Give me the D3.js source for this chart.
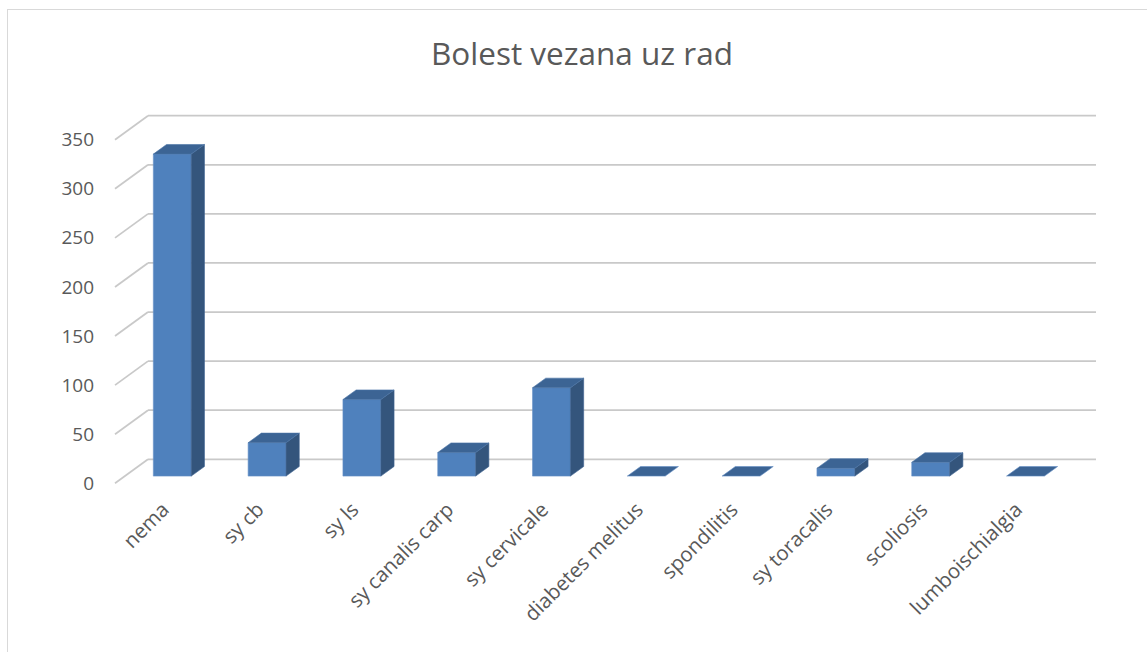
<!DOCTYPE html>
<html>
  <head>
    <meta charset="utf-8">
    <title>Bolest vezana uz rad</title>
    <script src="https://d3js.org/d3.v7.min.js"></script>
  </head>
  <style>
    body {
      margin: 0;
      background-color: #fff;
      font-family: 'Open Sans', 'Noto Sans', sans-serif;
    }
  </style>
  <body>
    <svg></svg>

    <script>
      // chart values
      var categories = ['nema', 'sy cb', 'sy ls', 'sy canalis carp', 'sy cervicale',
        'diabetes melitus', 'spondilitis', 'sy toracalis', 'scoliosis', 'lumboischialgia'];
      var values = [328, 34, 78, 24, 90, 0, 0, 8, 14, 0];
      var yTicks = [0, 50, 100, 150, 200, 250, 300, 350];
      var title = 'Bolest vezana uz rad';

      var width = 1147;
      var height = 652;
      var textColor = '#595959';

      // oblique depth of the floor, and the slice of it that bars use
      var depth = [33, -24];
      var barDepth = [0.3, 0.7];

      var svg = d3.select('svg')
        .attr('width', width)
        .attr('height', height);

      svg.append('rect')
        .attr('x', 7.5).attr('y', 9.5)
        .attr('width', 1145).attr('height', 660)
        .attr('fill', '#fff')
        .attr('stroke', '#d9d9d9');

      svg.append('text')
        .attr('x', 582)
        .attr('y', 65)
        .attr('text-anchor', 'middle')
        .style('font-size', '31.5px')
        .style('fill', textColor)
        .text(title);

      var x = d3.scaleBand()
        .domain(categories)
        .range([115, 1063])
        .paddingInner(0.6)
        .paddingOuter(0.3);

      var y = d3.scaleLinear()
        .domain([0, 350])
        .range([483.3, 139.7]);

      // back wall gridlines + the slanted ticks on the left wall
      var grid = svg.append('g');
      grid.selectAll('.wall')
        .data(yTicks)
        .enter().append('line')
        .attr('x1', 115 + depth[0])
        .attr('x2', 1063 + depth[0])
        .attr('y1', function (d) { return y(d) + depth[1]; })
        .attr('y2', function (d) { return y(d) + depth[1]; });
      grid.selectAll('.side')
        .data(yTicks)
        .enter().append('line')
        .attr('x1', 115)
        .attr('x2', 115 + depth[0])
        .attr('y1', function (d) { return y(d); })
        .attr('y2', function (d) { return y(d) + depth[1]; });
      grid.selectAll('line')
        .attr('stroke', '#c9c9c9')
        .attr('stroke-width', 1.8);

      var yAxis = svg.append('g')
        .attr('transform', 'translate(94,0)')
        .call(d3.axisLeft(y).tickValues(yTicks).tickSize(0).tickPadding(0));
      yAxis.select('.domain').remove();
      yAxis.selectAll('text')
        .style('font-size', '19px')
        .style('font-family', "'Open Sans', sans-serif")
        .style('fill', textColor);

      var xAxis = svg.append('g')
        .attr('transform', 'translate(0,483)')
        .call(d3.axisBottom(x).tickSize(0).tickPadding(0));
      xAxis.select('.domain').remove();
      xAxis.selectAll('text')
        .attr('x', 0).attr('y', 0).attr('dy', 0)
        .attr('text-anchor', 'end')
        .attr('transform', 'translate(8,28) rotate(-45)')
        .style('font-size', '20.5px')
        .style('font-family', "'Open Sans', sans-serif")
        .style('fill', textColor);

      function pts(list) {
        return list.map(function (p) { return p[0] + ',' + p[1]; }).join(' ');
      }

      var bars = svg.selectAll('.bar')
        .data(categories.map(function (c, i) { return { name: c, value: values[i] }; }))
        .enter().append('g').attr('class', 'bar');

      bars.each(function (d) {
        var g = d3.select(this);
        var x0 = x(d.name) + barDepth[0] * depth[0];
        var x1 = x0 + x.bandwidth();
        var yb = y(0) + barDepth[0] * depth[1];
        var yt = y(d.value) + barDepth[0] * depth[1];
        var dx = (barDepth[1] - barDepth[0]) * depth[0];
        var dy = (barDepth[1] - barDepth[0]) * depth[1];

        if (d.value > 0) {
          g.append('polygon')
            .attr('points', pts([[x0, yt], [x1, yt], [x1, yb], [x0, yb]]))
            .attr('fill', '#4f81bd')
            .attr('stroke', '#6690c6').attr('stroke-width', 0.6);
          g.append('polygon')
            .attr('points', pts([[x1, yt], [x1 + dx, yt + dy], [x1 + dx, yb + dy], [x1, yb]]))
            .attr('fill', '#34557c')
            .attr('stroke', '#3d6190').attr('stroke-width', 0.6);
        }
        g.append('polygon')
          .attr('points', pts([[x0, yt], [x1, yt], [x1 + dx, yt + dy], [x0 + dx, yt + dy]]))
          .attr('fill', '#3c6494')
          .attr('stroke', d.value > 0 ? '#4a73a6' : '#6690c6').attr('stroke-width', 0.6);
      });
    </script>
  </body>
</html>
